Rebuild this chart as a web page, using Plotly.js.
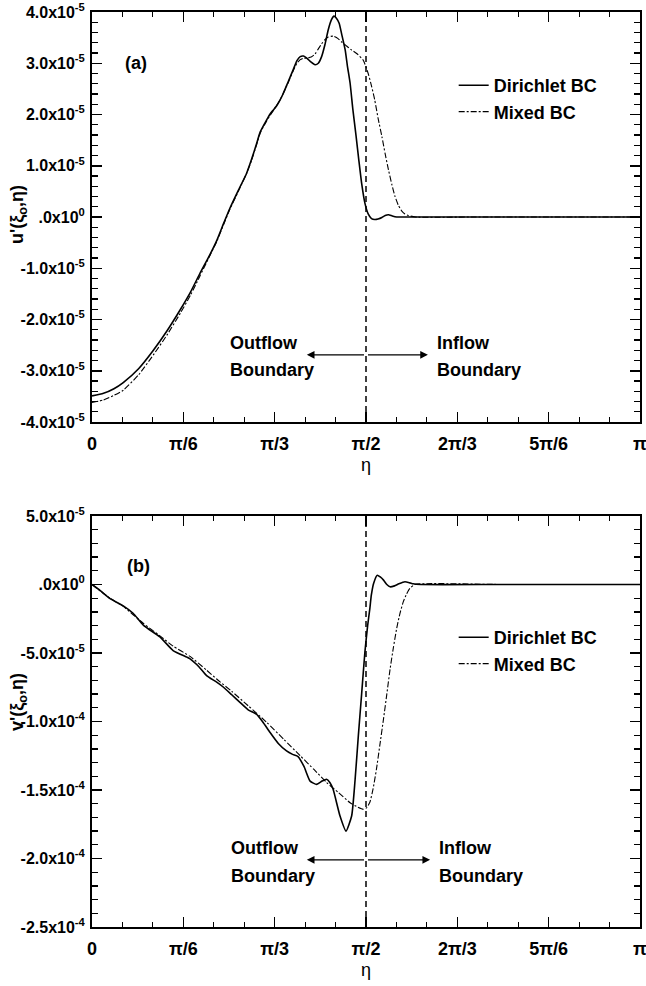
<!DOCTYPE html>
<html>
<head>
<meta charset="utf-8">
<script src="https://cdn.plot.ly/plotly-3.0.1.min.js"></script>
<style>html,body{margin:0;padding:0;background:#fff;}#chart{width:646px;height:986px;}</style>
</head>
<body>
<div id="chart"></div>
<script>
// x values in units of pi (eta / pi); y values in units of 1e-5
const etaTicks = [0, 1/6, 1/3, 1/2, 2/3, 5/6, 1];
const etaTickText = ['0', 'π/6', 'π/3', 'π/2', '2π/3', '5π/6', 'π'];

const uTicks = [-4, -3, -2, -1, 0, 1, 2, 3, 4];
const uTickText = ['-4.0x10<sup>-5</sup>', '-3.0x10<sup>-5</sup>', '-2.0x10<sup>-5</sup>', '-1.0x10<sup>-5</sup>',
  '.0x10<sup>0</sup>', '1.0x10<sup>-5</sup>', '2.0x10<sup>-5</sup>', '3.0x10<sup>-5</sup>', '4.0x10<sup>-5</sup>'];

const vTicks = [-25, -20, -15, -10, -5, 0, 5];
const vTickText = ['-2.5x10<sup>-4</sup>', '-2.0x10<sup>-4</sup>', '-1.5x10<sup>-4</sup>', '-1.0x10<sup>-4</sup>',
  '-5.0x10<sup>-5</sup>', '.0x10<sup>0</sup>', '5.0x10<sup>-5</sup>'];

// Panel (a): u'
const uDirEta = [0, 0.021, 0.04, 0.057, 0.085, 0.112, 0.137, 0.161, 0.18, 0.197, 0.213, 0.228, 0.24, 0.252, 0.267, 0.282, 0.291, 0.300, 0.307, 0.319, 0.325, 0.331, 0.337, 0.343, 0.349, 0.358, 0.367, 0.374, 0.380, 0.386, 0.392, 0.400, 0.407, 0.413, 0.419, 0.425, 0.431, 0.437, 0.4416, 0.446, 0.451, 0.456, 0.462, 0.466, 0.471, 0.476, 0.482, 0.487, 0.492, 0.498, 0.504, 0.510, 0.516, 0.522, 0.529, 0.535, 0.541, 0.548, 0.556, 0.58, 0.7, 0.85, 1.0];
const uDirVal = [-3.49, -3.44, -3.35, -3.23, -2.96, -2.60, -2.22, -1.81, -1.46, -1.10, -0.78, -0.45, -0.13, 0.18, 0.52, 0.85, 1.12, 1.42, 1.66, 1.90, 2.01, 2.09, 2.17, 2.28, 2.41, 2.64, 2.87, 3.05, 3.13, 3.14, 3.10, 3.02, 2.97, 3.00, 3.13, 3.36, 3.65, 3.85, 3.92, 3.88, 3.78, 3.55, 3.26, 2.95, 2.61, 2.10, 1.57, 1.10, 0.66, 0.27, 0.06, -0.03, -0.05, -0.04, -0.01, 0.03, 0.045, 0.02, 0.0, 0.0, 0.0, 0.0, 0.0];

const uMixEta = [0, 0.021, 0.04, 0.057, 0.085, 0.112, 0.137, 0.161, 0.18, 0.197, 0.213, 0.228, 0.24, 0.252, 0.267, 0.282, 0.291, 0.300, 0.307, 0.319, 0.331, 0.343, 0.358, 0.367, 0.374, 0.380, 0.386, 0.392, 0.400, 0.407, 0.413, 0.419, 0.425, 0.431, 0.440, 0.449, 0.455, 0.462, 0.472, 0.483, 0.495, 0.504, 0.510, 0.516, 0.522, 0.529, 0.535, 0.541, 0.547, 0.553, 0.559, 0.565, 0.571, 0.577, 0.59, 0.7, 0.85, 1.0];
const uMixVal = [-3.62, -3.57, -3.48, -3.38, -3.08, -2.69, -2.30, -1.88, -1.52, -1.15, -0.80, -0.47, -0.15, 0.16, 0.50, 0.85, 1.10, 1.40, 1.64, 1.88, 2.08, 2.28, 2.62, 2.85, 3.00, 3.07, 3.10, 3.10, 3.12, 3.18, 3.28, 3.38, 3.46, 3.51, 3.53, 3.48, 3.42, 3.36, 3.27, 3.19, 3.06, 2.80, 2.56, 2.28, 1.93, 1.57, 1.23, 0.92, 0.64, 0.40, 0.23, 0.12, 0.06, 0.03, 0.0, 0.0, 0.0, 0.0];

// Panel (b): v'
const vDirEta = [0, 0.015, 0.033, 0.057, 0.075, 0.094, 0.124, 0.148, 0.173, 0.179, 0.195, 0.209, 0.2275, 0.240, 0.255, 0.270, 0.285, 0.300, 0.312, 0.325, 0.340, 0.355, 0.366, 0.376, 0.387, 0.398, 0.410, 0.420, 0.428, 0.434, 0.440, 0.4526, 0.4635, 0.4738, 0.480, 0.486, 0.492, 0.498, 0.503, 0.507, 0.5097, 0.514, 0.5206, 0.526, 0.532, 0.538, 0.544, 0.552, 0.560, 0.571, 0.580, 0.586, 0.60, 0.75, 1.0];
const vDirVal = [0, -0.45, -1.03, -1.56, -2.1, -2.98, -3.83, -4.82, -5.30, -5.43, -6.0, -6.65, -7.13, -7.50, -8.05, -8.60, -9.15, -9.46, -10.05, -10.8, -11.6, -12.15, -12.4, -12.56, -13.3, -14.35, -14.59, -14.35, -14.22, -14.45, -14.95, -16.9, -18.0, -16.9, -14.3, -11.05, -8.0, -4.94, -3.0, -1.76, -0.78, 0.1, 0.68, 0.55, 0.32, 0.0, -0.17, -0.10, 0.05, 0.2, 0.12, 0.05, 0, 0, 0];

const vMixEta = [0, 0.033, 0.057, 0.094, 0.124, 0.148, 0.179, 0.209, 0.2275, 0.255, 0.285, 0.319, 0.350, 0.380, 0.405, 0.428, 0.450, 0.471, 0.485, 0.495, 0.501, 0.507, 0.513, 0.519, 0.525, 0.532, 0.538, 0.544, 0.550, 0.556, 0.562, 0.568, 0.574, 0.580, 0.589, 0.75, 1.0];
const vMixVal = [0, -1.0, -1.6, -2.85, -3.75, -4.5, -5.25, -6.25, -6.9, -7.8, -8.85, -10.07, -11.3, -12.5, -13.5, -14.45, -15.2, -15.93, -16.25, -16.4, -16.3, -15.9, -14.9, -13.5, -11.8, -9.8, -8.0, -6.16, -4.6, -3.2, -2.1, -1.27, -0.7, -0.29, 0, 0, 0];

const seriesNames = ['Dirichlet BC', 'Mixed BC'];

const FONT = 'Liberation Sans, Arial, Helvetica, sans-serif';
const solid = {color: '#000', width: 1.6, shape: 'spline', smoothing: 0.5};
const dashdot = {color: '#000', width: 1.1, dash: '6px,2px,2px,2px', shape: 'spline', smoothing: 0.5};

const traces = [
  {x: uDirEta, y: uDirVal, xaxis: 'x', yaxis: 'y', mode: 'lines', line: solid, name: seriesNames[0], legend: 'legend'},
  {x: uMixEta, y: uMixVal, xaxis: 'x', yaxis: 'y', mode: 'lines', line: dashdot, name: seriesNames[1], legend: 'legend'},
  {x: vDirEta, y: vDirVal, xaxis: 'x2', yaxis: 'y2', mode: 'lines', line: solid, name: seriesNames[0], legend: 'legend2'},
  {x: vMixEta, y: vMixVal, xaxis: 'x2', yaxis: 'y2', mode: 'lines', line: dashdot, name: seriesNames[1], legend: 'legend2'}
];

function xAxis(anchor) {
  return {
    anchor: anchor, domain: [0, 1], range: [0, 1],
    tickmode: 'array', tickvals: etaTicks, ticktext: etaTickText,
    ticks: 'inside', ticklen: 10, tickwidth: 1.5, tickcolor: '#000',
    minor: {tickmode: 'linear', tick0: 0, dtick: 1/18, ticks: 'inside', ticklen: 5, tickwidth: 1.2, tickcolor: '#000'},
    showline: true, linewidth: 2, linecolor: '#000', mirror: 'ticks',
    showgrid: false, zeroline: false,
    tickfont: {family: FONT, size: 18, color: '#000', weight: 'bold'},
    ticklabelstandoff: 4, ticklabeloverflow: 'allow',
    title: {text: 'η', font: {family: FONT, size: 18, color: '#000'}, standoff: 6}
  };
}
function yAxis(anchor, domain, range, tv, tt, minorStep) {
  return {
    anchor: anchor, domain: domain, range: range,
    tickmode: 'array', tickvals: tv, ticktext: tt,
    ticks: 'inside', ticklen: 10, tickwidth: 1.5, tickcolor: '#000',
    minor: {tickmode: 'linear', tick0: 0, dtick: minorStep, ticks: 'inside', ticklen: 6, tickwidth: 1.2, tickcolor: '#000'},
    showline: true, linewidth: 2, linecolor: '#000', mirror: 'ticks',
    showgrid: false, zeroline: false,
    tickfont: {family: FONT, size: 16, color: '#000', weight: 'bold'},
    ticklabelstandoff: 2, ticklabeloverflow: 'allow'
  };
}

const boldText = {family: FONT, size: 18, color: '#000', weight: 'bold'};
function label(text, x, y, xref, yref, anchor) {
  return {text: text, x: x, y: y, xref: xref, yref: yref, showarrow: false, xanchor: anchor || 'left', yanchor: 'middle', font: boldText};
}
function arrow(xTip, xTail, y, xref, yref) {
  return {text: ' ', x: xTip, y: y, ax: xTail, ay: y, xref: xref, yref: yref, axref: xref, ayref: yref,
    showarrow: true, arrowhead: 2, arrowsize: 1.1, arrowwidth: 1.4, arrowcolor: '#000', standoff: 0, startstandoff: 0,
    font: {family: FONT, size: 2}};
}

const layout = {
  width: 646, height: 986,
  margin: {l: 92, r: 6, t: 0, b: 0},
  paper_bgcolor: '#fff', plot_bgcolor: '#fff',
  showlegend: true,
  xaxis: xAxis('y'),
  yaxis: yAxis('x', [1 - 422/986, 1 - 12/986], [-4, 4], uTicks, uTickText, 0.2),
  xaxis2: xAxis('y2'),
  yaxis2: yAxis('x2', [1 - 927/986, 1 - 516/986], [-25, 5], vTicks, vTickText, 1),
  legend: {x: 0.66, y: 1 - 67/986, xanchor: 'left', yanchor: 'top', bgcolor: 'rgba(0,0,0,0)', borderwidth: 0,
    font: boldText, tracegroupgap: 0},
  legend2: {x: 0.66, y: 1 - 619/986, xanchor: 'left', yanchor: 'top', bgcolor: 'rgba(0,0,0,0)', borderwidth: 0,
    font: boldText, tracegroupgap: 0},
  shapes: [
    {type: 'line', xref: 'x', yref: 'y domain', x0: 0.5, x1: 0.5, y0: 0, y1: 1, line: {color: '#000', width: 1.5, dash: '6px,4px'}},
    {type: 'line', xref: 'x2', yref: 'y2 domain', x0: 0.5, x1: 0.5, y0: 0, y1: 1, line: {color: '#000', width: 1.5, dash: '6px,4px'}}
  ],
  annotations: [
    label('(a)', 0.080, 3.0, 'x', 'y', 'center'),
    label('(b)', 0.084, 1.32, 'x2', 'y2', 'center'),
    label('Outflow', 0.248, -2.46, 'x', 'y'),
    label('Boundary', 0.248, -2.985, 'x', 'y'),
    label('Inflow', 0.626, -2.46, 'x', 'y'),
    label('Boundary', 0.626, -2.985, 'x', 'y'),
    label('Outflow', 0.250, -19.2, 'x2', 'y2'),
    label('Boundary', 0.250, -21.26, 'x2', 'y2'),
    label('Inflow', 0.630, -19.2, 'x2', 'y2'),
    label('Boundary', 0.630, -21.26, 'x2', 'y2'),
    arrow(0.392, 0.5, -2.69, 'x', 'y'),
    arrow(0.613, 0.5, -2.69, 'x', 'y'),
    arrow(0.392, 0.5, -20.1, 'x2', 'y2'),
    arrow(0.617, 0.5, -20.1, 'x2', 'y2'),
    {text: "u'(ξ<sub>o</sub>,η)", x: (18 - 92) / 548, y: 1 - 215/986, xref: 'paper', yref: 'paper',
      showarrow: false, textangle: -90, xanchor: 'center', yanchor: 'middle', font: boldText},
    {text: "v'(ξ<sub>o</sub>,η)", x: (18 - 92) / 548, y: 1 - 702/986, xref: 'paper', yref: 'paper',
      showarrow: false, textangle: -90, xanchor: 'center', yanchor: 'middle', font: boldText}
  ]
};

Plotly.newPlot('chart', traces, layout, {displayModeBar: false, staticPlot: true});
</script>
</body>
</html>
